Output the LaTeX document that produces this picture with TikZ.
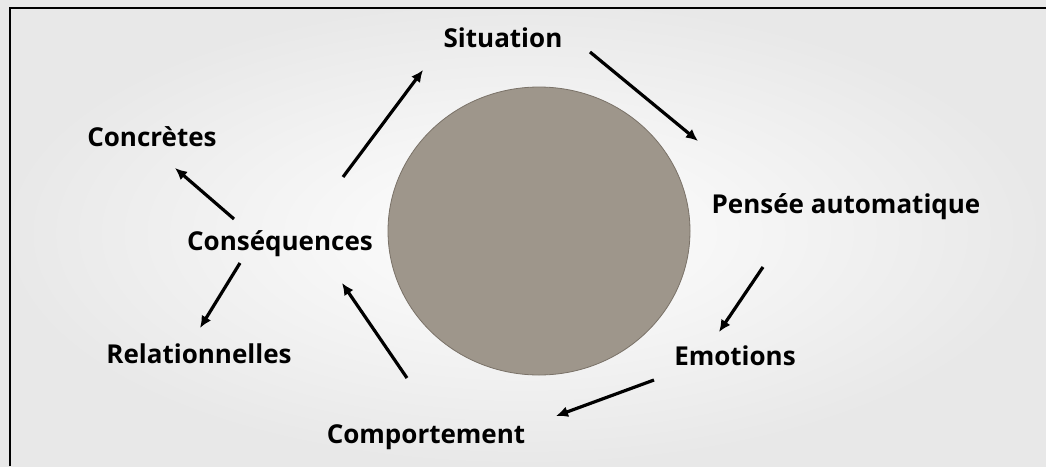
\documentclass[tikz,border=0pt]{standalone}
\usepackage{fontspec}
\setmainfont{Open Sans}
\usetikzlibrary{arrows.meta}
\definecolor{disque}{HTML}{9E968B}
\definecolor{disquebord}{HTML}{7A7268}
\begin{document}
\begin{tikzpicture}[x=1pt,y=-1pt,
  etiquette/.style={font=\fontsize{26}{30}\selectfont\bfseries, inner sep=0pt, anchor=base},
  fleche/.style={line width=3.2pt, -{Latex[length=12pt,width=11pt]}}]
		\useasboundingbox (0,0) rectangle (1046,466);
		\shade[inner color=white, outer color=black!9] (0,0) rectangle (1046,466);
		\draw[line width=2.4pt] (10,466) -- (10,8) -- (1046,8);
		\filldraw[fill=disque, draw=disquebord, line width=0.8pt] (539,231) ellipse (151 and 144);
		\node[etiquette] (situation) at (503,47)  {Situation};
		\node[etiquette] (pensee)    at (846,213) {Pensée automatique};
		\node[etiquette] (emotions)  at (735,365) {Emotions};
		\node[etiquette] (comport)   at (426,443) {Comportement};
		\node[etiquette] (consequ)   at (280,250) {Conséquences};
		\node[etiquette] (concretes) at (152,146) {Concrètes};
		\node[etiquette] (relation)  at (199,363) {Relationnelles};
		\coordinate (cs1) at (343,177);  \coordinate (cs2) at (423,70);
		\coordinate (sp1) at (590,52);   \coordinate (sp2) at (698,141);
		\coordinate (pe1) at (763,267);  \coordinate (pe2) at (719,332);
		\coordinate (ec1) at (654,380);  \coordinate (ec2) at (556,416);
		\coordinate (cc1) at (407,378);  \coordinate (cc2) at (342,283);
		\coordinate (ck1) at (234,219);  \coordinate (ck2) at (175,168);
		\coordinate (cr1) at (240,263);  \coordinate (cr2) at (200,328);
		\draw[fleche] (cs1) -- (cs2);
		\draw[fleche] (sp1) -- (sp2);
		\draw[fleche] (pe1) -- (pe2);
		\draw[fleche] (ec1) -- (ec2);
		\draw[fleche] (cc1) -- (cc2);
		\draw[fleche] (ck1) -- (ck2);
		\draw[fleche] (cr1) -- (cr2);
\end{tikzpicture}
\end{document}
